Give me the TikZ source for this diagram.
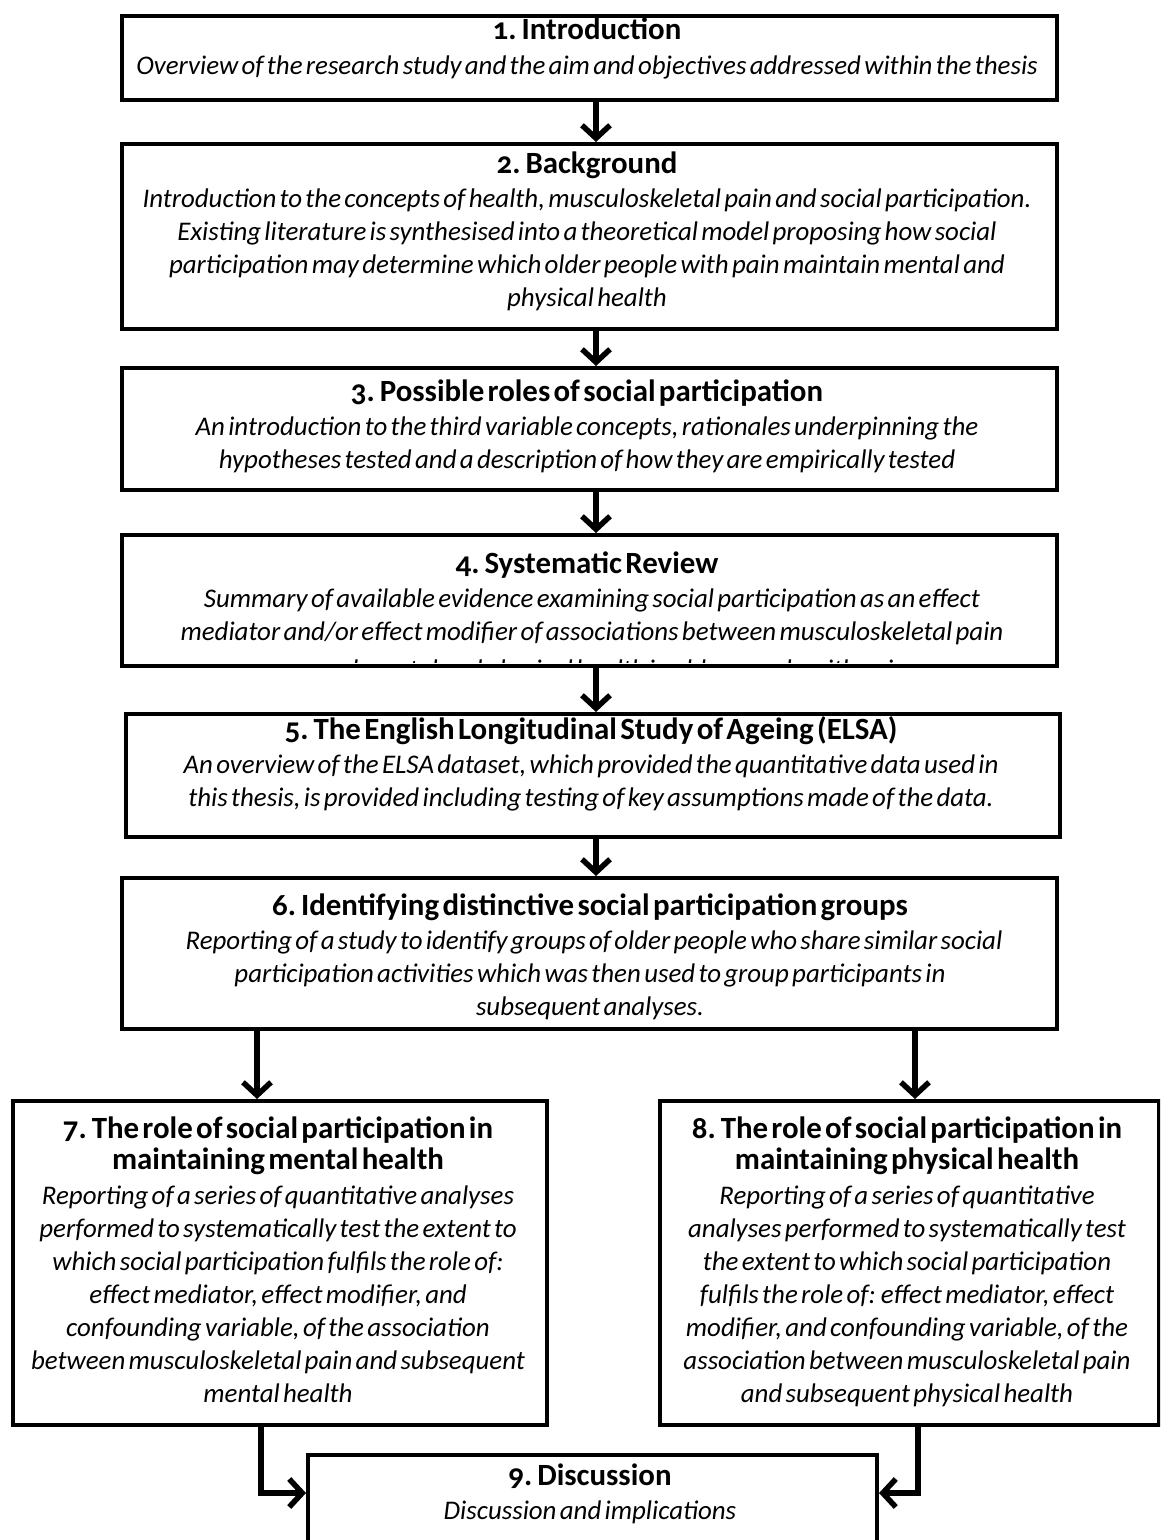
\documentclass[tikz,border=0pt]{standalone}
\usepackage{fontspec}
\setmainfont{Carlito}[Numbers=OldStyle]
\usetikzlibrary{arrows.meta}
% heading in bold, description in italic, one line per \\
\newcommand{\stagetext}[2]{{\bfseries\fontsize{31}{32}\selectfont #1\par}\vspace{2bp}{\itshape\fontsize{27}{33}\selectfont #2\par}}

\begin{document}
\begin{tikzpicture}[x=1bp,y=-1bp,
  stagebox/.style={draw, line width=4bp, inner sep=0pt, anchor=north west},
  stagelabel/.style={anchor=base, inner sep=0pt, align=center, text width=#1},
  flow/.style={line width=5.5bp, -{Straight Barb[length=13bp,width=28bp,line width=5.5bp]}},
]
\clip (0,0) rectangle (1160,1540);
\fill[white] (0,0) rectangle (1160,1540);

% column positions of the connectors
\coordinate (mid) at (596,0);
\coordinate (leftcol) at (257,0);
\coordinate (rightcol) at (915,0);
\coordinate (leftdrop) at (261,0);
\coordinate (rightdrop) at (918,0);
\coordinate (join) at (0,1493);

% chapter boxes
\node[stagebox, minimum width=935bp, minimum height=84bp]  (s1) at (120,14)  {};
\node[stagebox, minimum width=935bp, minimum height=185bp] (s2) at (120,142) {};
\node[stagebox, minimum width=935bp, minimum height=122bp] (s3) at (120,366) {};
\node[stagebox, minimum width=935bp, minimum height=131bp] (s4) at (120,533) {};
\node[stagebox, minimum width=934bp, minimum height=123bp] (s5) at (124,712) {};
\node[stagebox, minimum width=935bp, minimum height=151bp] (s6) at (120,876) {};
\node[stagebox, minimum width=534bp, minimum height=324bp] (s7) at (11,1099) {};
\node[stagebox, minimum width=499bp, minimum height=324bp] (s8) at (658,1099) {};
\node[stagebox, minimum width=569bp, minimum height=130bp] (s9) at (306,1453) {};

% chapter texts
\node[stagelabel=930bp] (t1) at (587,40) {\stagetext{1. Introduction}{Overview of the research study and the aim and objectives addressed within the thesis}};
\node[stagelabel=930bp] (t2) at (587,173) {\stagetext{2. Background}{Introduction to the concepts of health, musculoskeletal pain and social participation.\\
Existing literature is synthesised into a theoretical model proposing how social\\
participation may determine which older people with pain maintain mental and\\
physical health}};
\node[stagelabel=930bp] (t3) at (587,401) {\stagetext{3. Possible roles of social participation}{An introduction to the third variable concepts, rationales underpinning the\\
hypotheses tested and a description of how they are empirically tested}};
\begin{scope}
  \clip (122,535) rectangle (1053,662);
  \node[stagelabel=930bp] (t4) at (587,573) {\stagetext{4. Systematic Review}{\hspace*{10bp}Summary of available evidence examining social participation as an effect\\
  \hspace*{10bp}mediator and/or effect modifier of associations between musculoskeletal pain\\[5bp]
  \hspace*{50bp}and mental and physical health in older people with pain}};
\end{scope}
\node[stagelabel=930bp] (t5) at (591,739) {\stagetext{5. The English Longitudinal Study of Ageing (ELSA)}{An overview of the ELSA dataset, which provided the quantitative data used in\\
this thesis, is provided including testing of key assumptions made of the data.}};
\node[stagelabel=930bp] (t6) at (590,915) {\stagetext{6. Identifying distinctive social participation groups}{\hspace*{8bp}Reporting of a study to identify groups of older people who share similar social\\
participation activities which was then used to group participants in\\
subsequent analyses.}};
\node[stagelabel=525bp] (t7) at (278,1138) {\stagetext{7. The role of social participation in\\ maintaining mental health}{Reporting of a series of quantitative analyses\\
performed to systematically test the extent to\\
which social participation fulfils the role of:\\
effect mediator, effect modifier, and\\
confounding variable, of the association\\
between musculoskeletal pain and subsequent\\
mental health}};
\node[stagelabel=495bp] (t8) at (907,1138) {\stagetext{8. The role of social participation in\\ maintaining physical health}{Reporting of a series of quantitative\\
analyses performed to systematically test\\
the extent to which social participation\\
fulfils the role of: effect mediator, effect\\
modifier, and confounding variable, of the\\
association between musculoskeletal pain\\
and subsequent physical health}};
\node[stagelabel=560bp] (t9) at (590,1485) {\stagetext{9. Discussion}{Discussion and implications}};

% connectors
\draw[flow] (s1.south -| mid) -- (s2.north -| mid);
\draw[flow] (s2.south -| mid) -- (s3.north -| mid);
\draw[flow] (s3.south -| mid) -- (s4.north -| mid);
\draw[flow] (s4.south -| mid) -- (s5.north -| mid);
\draw[flow] (s5.south -| mid) -- (s6.north -| mid);
\draw[flow] (s6.south -| leftcol) -- (s7.north -| leftcol);
\draw[flow] (s6.south -| rightcol) -- (s8.north -| rightcol);
\draw[flow] (s7.south -| leftdrop) |- (join -| s9.west);
\draw[flow] (s8.south -| rightdrop) |- (join -| s9.east);
\end{tikzpicture}
\end{document}
